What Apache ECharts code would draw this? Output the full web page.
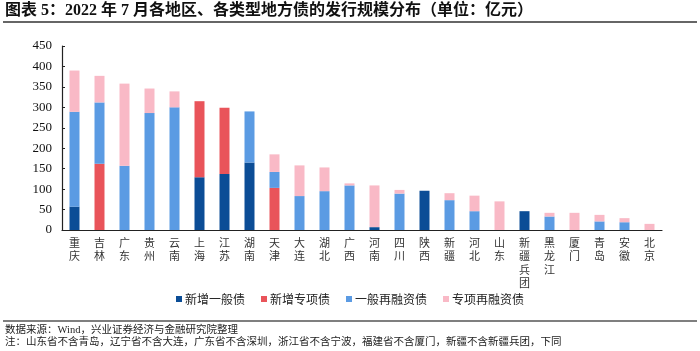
<!DOCTYPE html>
<html>
<head>
<meta charset="utf-8">
<script src="https://cdn.jsdelivr.net/npm/echarts@6/dist/echarts.min.js"></script>
<style>
html,body{margin:0;padding:0;background:#fff;}
#main{width:700px;height:351px;}
</style>
</head>
<body>
<div id="main"></div>
<script>
const categories = ['重庆','吉林','广东','贵州','云南','上海','江苏','湖南','天津','大连','湖北','广西','河南','四川','陕西','新疆','河北','山东','新疆兵团','黑龙江','厦门','青岛','安徽','北京'];
const seriesNames = ['新增一般债','新增专项债','一般再融资债','专项再融资债'];
const newGeneral  = [57,0,0,0,0,129,137,165,0,0,0,0,7,0,96,0,0,0,46,0,0,0,0,0];
const newSpecial  = [0,162,0,0,0,186,162,0,103,0,0,0,0,0,0,0,0,0,0,0,0,0,0,0];
const refiGeneral = [232,150,157,286,300,0,0,125,39,83,95,109,0,89,0,73,46,0,0,33,0,21,19,0];
const refiSpecial = [101,65,201,60,39,0,0,0,43,75,58,5,102,9,0,17,38,70,0,9,42,16,10,15];
const yTicks = {min:0, max:450, interval:50};
const titleText = '图表 5：2022 年 7 月各地区、各类型地方债的发行规模分布（单位：亿元）';
const sourceText = '数据来源：Wind，兴业证券经济与金融研究院整理';
const noteText = '注：山东省不含青岛，辽宁省不含大连，广东省不含深圳，浙江省不含宁波，福建省不含厦门，新疆不含新疆兵团，下同';

const colors = ['#0b4d96','#e9545a','#5b9be3','#f9b9c6'];
const valueLists = [newGeneral, newSpecial, refiGeneral, refiSpecial];

const chart = echarts.init(document.getElementById('main'), null, {renderer:'canvas'});
chart.setOption({
  animation:false,
  backgroundColor:'#fff',
  color: colors,
  grid:{left:62, right:38, top:46, bottom:121, containLabel:false},
  legend:{
    data: seriesNames,
    top: 288,
    left: 'center',
    icon:'rect',
    itemWidth:6, itemHeight:6, itemGap:16,
    textStyle:{fontFamily:'"Noto Sans CJK SC"', fontSize:12, color:'#222', padding:[0,0,0,-2]}
  },
  xAxis:{
    type:'category',
    data: categories,
    axisLine:{lineStyle:{color:'#222', width:1.2}},
    axisTick:{show:false},
    axisLabel:{
      interval:0, margin:6,
      fontFamily:'"Noto Sans CJK SC"', fontSize:11, color:'#333', lineHeight:13.5,
      formatter: v => v.split('').join('\n')
    }
  },
  yAxis:{
    type:'value',
    min:yTicks.min, max:yTicks.max, interval:yTicks.interval,
    splitLine:{show:false},
    axisLine:{show:true, lineStyle:{color:'#222', width:1.2}},
    axisTick:{show:true, inside:true, length:3, lineStyle:{color:'#222'}},
    axisLabel:{fontFamily:'"Liberation Serif"', fontSize:13, color:'#111', margin:10}
  },
  series: seriesNames.map((n,i)=>({
    name:n, type:'bar', stack:'total', barWidth:10,
    data: valueLists[i],
    itemStyle:{color:colors[i]}
  })),
  graphic:[
    {type:'text', left:5, top:3, style:{text:titleText, font:'bold 16px "Liberation Serif", "Noto Sans CJK SC"', fill:'#111'}},
    {type:'line', shape:{x1:3, y1:22, x2:697, y2:22}, style:{stroke:'#333', lineWidth:1.6}},
    {type:'line', shape:{x1:3, y1:321, x2:697, y2:321}, style:{stroke:'#555', lineWidth:1.6}},
    {type:'text', left:5, top:325, style:{text:sourceText, font:'10.5px "Liberation Serif", "Noto Sans CJK SC"', fill:'#222'}},
    {type:'text', left:5, top:337, style:{text:noteText, font:'10.5px "Liberation Serif", "Noto Sans CJK SC"', fill:'#222'}}
  ]
});
</script>
</body>
</html>
